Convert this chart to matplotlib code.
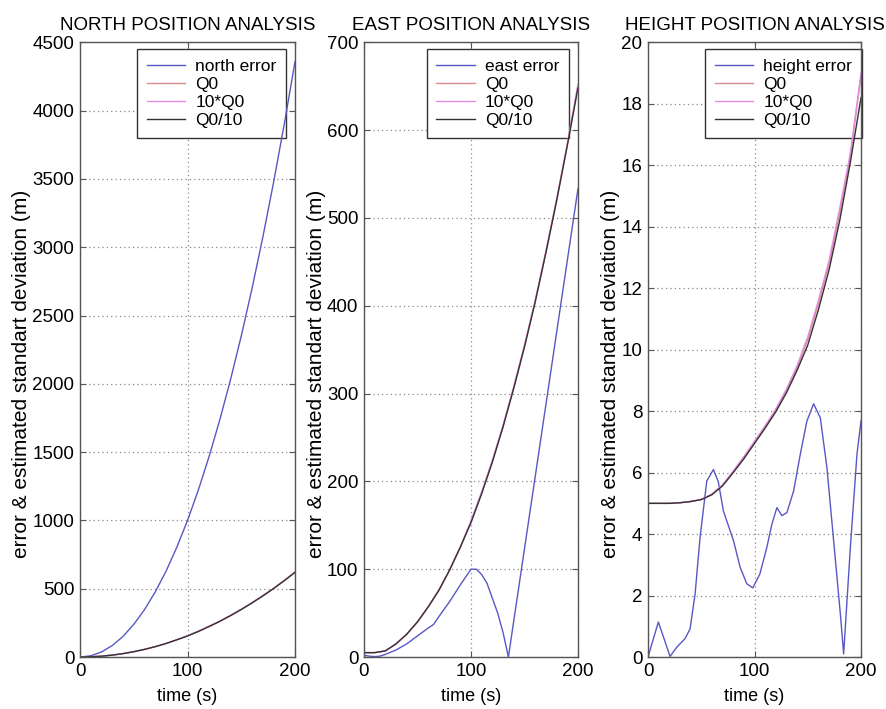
import matplotlib
matplotlib.use("Agg")
from matplotlib import pyplot as plt

plt.rcParams['font.family'] = ['Liberation Sans', 'DejaVu Sans']

# time axis (s)
t = [0, 10, 20, 30, 40, 50, 60, 70, 80, 90, 100,
     110, 120, 130, 140, 150, 160, 170, 180, 190, 200]

# north
north_err = [0, 9, 37, 84, 151, 239, 347, 477, 628, 803, 1000,
             1221, 1466, 1736, 2031, 2351, 2698, 3072, 3473, 3902, 4360]
north_q0 = [0, 2, 6, 14, 25, 39, 56, 76, 99, 126, 155,
            188, 224, 262, 304, 349, 397, 448, 502, 560, 622]
north_q0x10 = [0, 2, 6, 14, 25, 39, 56, 76, 99, 126, 156,
               189, 225, 263, 305, 350, 398, 449, 503, 561, 624]
north_q0d10 = [0, 2, 6, 14, 25, 39, 56, 76, 99, 126, 154,
               187, 223, 261, 303, 348, 396, 447, 501, 559, 620]

# east
east_t = [0, 5, 10, 15, 20, 30, 40, 50, 60, 65, 70, 80, 90, 100, 105,
          110, 115, 120, 125, 130, 135, 140, 150, 160, 170, 180, 190, 200]
east_err = [2, 1, 0.5, 1, 3, 8, 15, 24, 33, 37, 46, 63, 82, 100, 100,
            94, 84, 67, 50, 28, 0, 41, 123, 205, 287, 369, 451, 533]
east_q0 = [5, 5, 7, 15, 26, 40, 57, 76, 99, 125, 154,
           187, 223, 263, 307, 354, 405, 461, 520, 583, 650]
east_q0x10 = [5, 5, 7, 15, 26, 40, 57, 76, 99, 125, 155,
              188, 224, 264, 308, 355, 406, 462, 521, 584, 652]
east_q0d10 = [5, 5, 7, 15, 26, 40, 57, 76, 99, 125, 153,
              186, 222, 262, 306, 353, 404, 460, 519, 582, 648]

# height
height_t = [0, 9.7, 20.7, 27, 34.8, 39.5, 44.2, 48.9, 55.2, 61.4, 66, 70.8,
            80.3, 86.5, 92.8, 98.4, 105, 111.6, 116.3, 121, 125.7, 130.4,
            136.7, 143, 149.2, 155.5, 161.8, 168, 174.3, 180.6, 183.7, 190,
            196.2, 200]
height_err = [0, 1.14, 0.02, 0.32, 0.6, 0.92, 2.05, 3.9, 5.73, 6.1, 5.7, 4.75,
              3.78, 2.92, 2.38, 2.25, 2.7, 3.57, 4.32, 4.86, 4.6, 4.7,
              5.4, 6.6, 7.68, 8.24, 7.78, 6.16, 3.78, 1.4, 0.1, 3.57,
              6.6, 7.68]
height_q0 = [5, 5, 5, 5.02, 5.06, 5.13, 5.3, 5.6, 6.03, 6.5, 7.0,
             7.5, 8.03, 8.67, 9.42, 10.33, 11.5, 12.8, 14.45, 16.3, 18.9]
height_q0x10 = [5, 5, 5, 5.02, 5.06, 5.13, 5.3, 5.6, 6.05, 6.52, 7.02,
                7.52, 8.07, 8.72, 9.48, 10.42, 11.6, 12.9, 14.6, 16.4, 19.0]
height_q0d10 = [5, 5, 5, 5.02, 5.06, 5.12, 5.28, 5.57, 6.0, 6.45, 6.95,
                7.45, 7.98, 8.6, 9.33, 10.15, 11.3, 12.6, 14.2, 16.1, 18.2]

c_err = '#5858c4'
c_q0 = '#d98a8a'
c_q0x10 = '#e68ae6'
c_q0d10 = '#333333'

fig = plt.figure(figsize=(8.86, 7.09), dpi=100)
fig.patch.set_facecolor('white')

panels = [
    ([0.0903, 0.0733, 0.2427, 0.867], 'NORTH POSITION ANALYSIS', 'north error',
     t, north_err, north_q0, north_q0x10, north_q0d10,
     (0, 4500), list(range(0, 4501, 500)), 0.958),
    ([0.4108, 0.0733, 0.2415, 0.867], 'EAST POSITION ANALYSIS', 'east error',
     east_t, east_err, east_q0, east_q0x10, east_q0d10,
     (0, 700), list(range(0, 701, 100)), 0.958),
    ([0.7314, 0.0733, 0.2404, 0.867], 'HEIGHT POSITION ANALYSIS', 'height error',
     height_t, height_err, height_q0, height_q0x10, height_q0d10,
     (0, 20), list(range(0, 21, 2)), 1.004),
]

for rect, title, errname, et, err, q0, q0x10, q0d10, ylim, yt, lx in panels:
    ax = fig.add_axes(rect)
    ax.plot(et, err, color=c_err, lw=1.0, label=errname)
    ax.plot(t, q0, color=c_q0, lw=1.0, label='Q0')
    ax.plot(t, q0x10, color=c_q0x10, lw=1.0, label='10*Q0')
    ax.plot(t, q0d10, color=c_q0d10, lw=1.0, label='Q0/10')
    ax.set_xlim(0, 200)
    ax.set_ylim(*ylim)
    ax.set_xticks([0, 100, 200])
    ax.set_yticks(yt)
    ax.grid(True, linestyle=(0, (1, 2.5)), color='#888888', lw=0.9)
    ax.tick_params(direction='in', top=True, right=True, length=4,
                   labelsize=13.5, color='#555555', pad=4)
    for s in ax.spines.values():
        s.set_color('#555555')
        s.set_linewidth(1.0)
    ax.set_title(title, fontsize=13.5, pad=9)
    ax.set_xlabel('time (s)', fontsize=13, labelpad=6)
    ax.set_ylabel('error & estimated standart deviation (m)', fontsize=15, labelpad=1)
    ax.yaxis.label.set_y(0.46)
    leg = ax.legend(loc='upper right', bbox_to_anchor=(lx, 0.989), fontsize=12.5,
                    fancybox=False, framealpha=1, edgecolor='#333333',
                    handlelength=2.2, handletextpad=0.6, labelspacing=0.17,
                    borderpad=0.55, borderaxespad=0)
    leg.get_frame().set_linewidth(1.0)
    leg.set_zorder(1.8)

plt.savefig('out.png', dpi=100)
